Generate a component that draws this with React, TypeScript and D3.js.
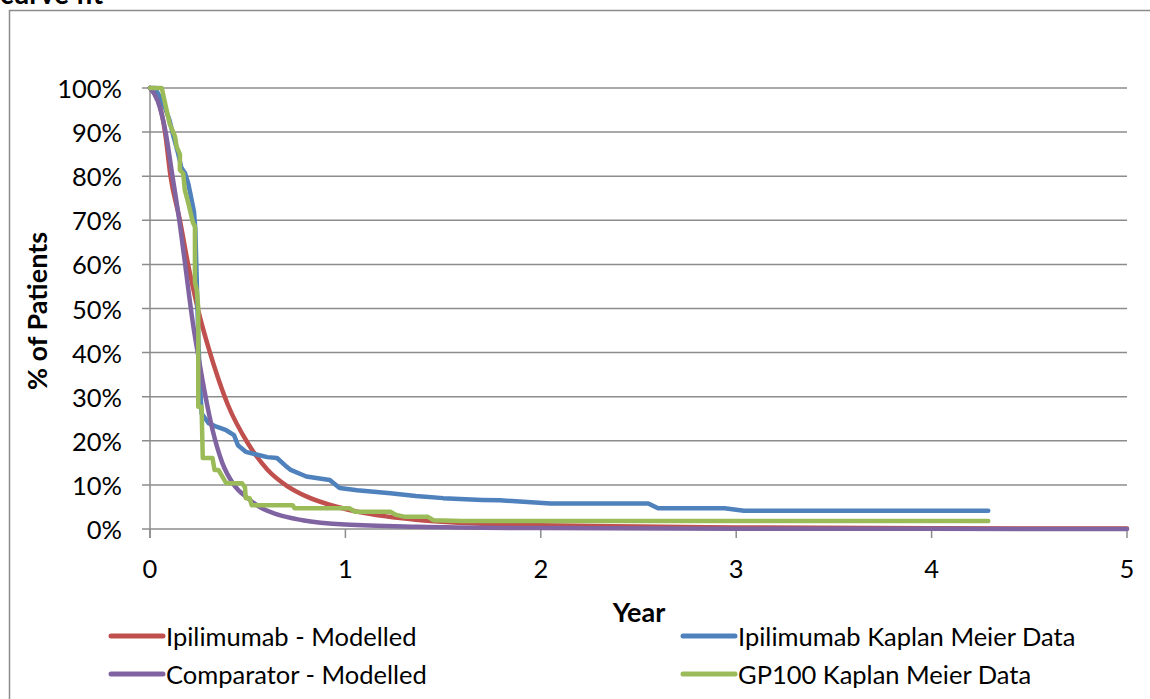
import React from 'react';
import * as d3 from 'd3';

// Ipilimumab modelled curve [year, % surviving]
const ipiModel: [number, number][] = [
  [0, 100], [0.04, 97.5], [0.077, 90], [0.105, 80], [0.153, 70], [0.195, 60],
  [0.25, 49], [0.3, 41], [0.35, 34], [0.4, 28], [0.5, 19.5], [0.6, 13.5],
  [0.7, 9.8], [0.8, 7.4], [0.95, 5.1], [1.1, 3.6], [1.36, 2.1], [1.7, 1.2],
  [2, 0.85], [2.5, 0.55], [3, 0.35], [4, 0.18], [5, 0.1],
];

// Comparator modelled curve
const compModel: [number, number][] = [
  [0, 100], [0.04, 97], [0.08, 90], [0.115, 80], [0.15, 70], [0.18, 60],
  [0.2, 53], [0.22, 46.5], [0.25, 38.5], [0.28, 31], [0.32, 22.5], [0.37, 15],
  [0.43, 10], [0.5, 7], [0.56, 5], [0.65, 3.3], [0.78, 2], [1.0, 1],
  [1.37, 0.5], [2, 0.2], [3, 0.08], [4, 0.03], [5, 0.01],
];

// Ipilimumab Kaplan Meier
const ipiKM: [number, number][] = [
  [0, 100], [0.026, 100], [0.05, 98], [0.077, 95.5], [0.1, 92.7], [0.12, 89],
  [0.145, 85], [0.16, 82], [0.18, 80.6], [0.196, 78.3], [0.21, 75.3], [0.225, 72],
  [0.232, 68], [0.24, 55], [0.248, 42], [0.256, 33], [0.264, 26.2], [0.3, 24],
  [0.34, 23.2], [0.39, 22.4], [0.43, 21.3], [0.45, 19], [0.49, 17.5], [0.6, 16.3],
  [0.65, 16.1], [0.7, 14.1], [0.72, 13.4], [0.8, 11.9], [0.92, 11.1], [0.97, 9.3],
  [1.06, 8.8], [1.23, 8.1], [1.36, 7.5], [1.5, 7], [1.7, 6.6], [1.79, 6.5],
  [2.05, 5.8], [2.55, 5.8], [2.6, 4.7], [2.94, 4.7], [3.04, 4.15], [4.29, 4.15],
];

// GP100 Kaplan Meier
const gpKM: [number, number][] = [
  [0, 100], [0.06, 100], [0.085, 95], [0.1, 92], [0.128, 89], [0.136, 86.7],
  [0.153, 85], [0.153, 81.4], [0.17, 80.6], [0.178, 76.9], [0.196, 73.9], [0.22, 69.4],
  [0.23, 68.6], [0.23, 56], [0.24, 54], [0.247, 50], [0.247, 27.7], [0.264, 27.7],
  [0.27, 16.1], [0.32, 16.1], [0.33, 13.4], [0.35, 13.4], [0.39, 10.4], [0.47, 10.4],
  [0.486, 9.5], [0.49, 7], [0.51, 7], [0.52, 5.4], [0.73, 5.4], [0.74, 4.7],
  [1.02, 4.7], [1.05, 3.9], [1.23, 3.9], [1.26, 3.2], [1.3, 2.8], [1.42, 2.8],
  [1.45, 2.0], [1.6, 1.8], [4.29, 1.8],
];

const xTicks = [0, 1, 2, 3, 4, 5];
const yTicks = [0, 10, 20, 30, 40, 50, 60, 70, 80, 90, 100];

const series = [
  { name: 'Ipilimumab - Modelled', data: ipiModel, color: '#C0504D', smooth: true },
  { name: 'Ipilimumab Kaplan Meier Data', data: ipiKM, color: '#4F81BD', smooth: false },
  { name: 'Comparator - Modelled', data: compModel, color: '#8064A2', smooth: true },
  { name: 'GP100 Kaplan Meier Data', data: gpKM, color: '#9BBB59', smooth: false },
];

const W = 1150;
const H = 699;
const font = 'Lato, "Open Sans", sans-serif';
const gridColor = '#8c8c8c';

const App: React.FC = () => {
  const x = d3.scaleLinear().domain([0, 5]).range([150, 1127]);
  const y = d3.scaleLinear().domain([0, 100]).range([529, 88]);

  const smoothLine = d3.line<[number, number]>()
    .x(d => x(d[0]))
    .y(d => y(d[1]))
    .curve(d3.curveMonotoneX);
  const stepLine = d3.line<[number, number]>()
    .x(d => x(d[0]))
    .y(d => y(d[1]));

  const legendPos = [
    { lx: 111, ly: 636 },
    { lx: 683, ly: 636 },
    { lx: 111, ly: 674 },
    { lx: 683, ly: 674 },
  ];

  return (
    <svg width={W} height={H} style={{ position: 'absolute', left: 0, top: 0, background: '#fff' }}
      fontFamily={font}>
      {/* chart frame */}
      <rect x={9.5} y={10.5} width={W + 20} height={H + 20} fill="#fff" stroke="#8c8c8c" strokeWidth={1.5} />
      <text x={0} y={4} fontSize={28} fontWeight="bold" fill="#000">curve fit</text>

      {/* gridlines + y ticks */}
      {yTicks.map(t => (
        <g key={t}>
          <line x1={142} x2={x(5)} y1={y(t)} y2={y(t)} stroke={gridColor} strokeWidth={1.5} />
          <text x={122} y={y(t)} fontSize={25.5} textAnchor="end" dominantBaseline="central" fill="#000">
            {t}%
          </text>
        </g>
      ))}
      {/* y axis */}
      <line x1={x(0)} x2={x(0)} y1={y(100)} y2={538} stroke={gridColor} strokeWidth={1.5} />
      {/* x ticks */}
      {xTicks.map(t => (
        <g key={t}>
          <line x1={x(t)} x2={x(t)} y1={y(0)} y2={538} stroke={gridColor} strokeWidth={1.5} />
          <text x={x(t)} y={568} fontSize={25.5} textAnchor="middle" dominantBaseline="central" fill="#000">
            {t}
          </text>
        </g>
      ))}

      {/* series */}
      {series.map(s => (
        <path key={s.name} d={(s.smooth ? smoothLine : stepLine)(s.data) || ''} fill="none"
          stroke={s.color} strokeWidth={4.5} strokeLinejoin="round" strokeLinecap="round" />
      ))}

      {/* axis titles */}
      <text x={639} y={611} fontSize={27} fontWeight="bold" textAnchor="middle" dominantBaseline="central">Year</text>
      <text transform="translate(36,311) rotate(-90)" fontSize={27} fontWeight="bold" textAnchor="middle"
        dominantBaseline="central">% of Patients</text>

      {/* legend */}
      {series.map((s, i) => {
        const p = legendPos[i];
        return (
          <g key={s.name}>
            <line x1={p.lx} x2={p.lx + 52} y1={p.ly} y2={p.ly} stroke={s.color} strokeWidth={5} strokeLinecap="round" />
            <text x={p.lx + 55} y={p.ly} fontSize={25.5} dominantBaseline="central" fill="#000">{s.name}</text>
          </g>
        );
      })}
    </svg>
  );
};

export default App;
